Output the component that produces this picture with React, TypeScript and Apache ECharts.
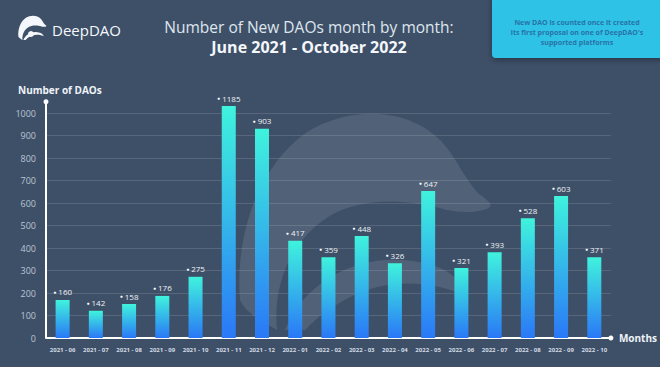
import React, { useEffect, useRef } from 'react';
import * as echarts from 'echarts';

const categories = [
  '2021 - 06', '2021 - 07', '2021 - 08', '2021 - 09', '2021 - 10', '2021 - 11', '2021 - 12',
  '2022 - 01', '2022 - 02', '2022 - 03', '2022 - 04', '2022 - 05', '2022 - 06', '2022 - 07',
  '2022 - 08', '2022 - 09', '2022 - 10',
];
// bar heights as drawn in the picture (read against the y axis)
const barHeights = [169, 121, 151, 187, 272, 1031, 930, 432, 359, 453, 332, 653, 311, 381, 532, 631, 359];
// numbers printed above each bar
const labelValues = [160, 142, 158, 176, 275, 1185, 903, 417, 359, 448, 326, 647, 321, 393, 528, 603, 371];
const yMax = 1000;
const yInterval = 100;
const yAxisTop = 1050;

const DOME =
  'M3 193 C -2 130 20 60 70 25 C 110 0 170 -2 205 35 C 220 52 228 72 240 85 C 248 92 255 95 253 100 C 245 106 225 106 210 103 C 180 95 140 88 100 105 C 60 125 35 170 40 223 C 25 215 8 205 3 193 Z';
const SWIRL =
  'M48 223 C 70 170 130 140 195 158 C 215 164 226 176 230 190 C 205 176 160 170 122 186 C 96 197 78 212 68 223 Z';

echarts.graphic.registerShape('ddDome', echarts.graphic.extendPath(DOME, {}));
echarts.graphic.registerShape('ddSwirl', echarts.graphic.extendPath(SWIRL, {}));

const GRID_LEFT = 46;
const GRID_RIGHT = 46;
const GRID_TOP = 113;
const GRID_BOTTOM = 29;
const BG = '#3e5068';

export default function App() {
  const ref = useRef<HTMLDivElement>(null);
  useEffect(() => {
    if (!ref.current) return;
    const chart = echarts.init(ref.current, null, { renderer: 'svg' });
    const font = '"Open Sans", "Noto Sans", sans-serif';
    const wm = 'rgba(255,255,255,0.1)';
    chart.setOption({
      animation: false,
      backgroundColor: BG,
      textStyle: { fontFamily: font },
      grid: { left: GRID_LEFT, right: GRID_RIGHT, top: GRID_TOP, bottom: GRID_BOTTOM, containLabel: false },
      xAxis: {
        type: 'category',
        data: categories,
        name: 'Months',
        nameLocation: 'end',
        nameGap: 8,
        nameTextStyle: { color: '#eef3f8', fontSize: 10, fontWeight: 'bold', fontFamily: font },
        axisLine: { show: true, lineStyle: { color: '#ffffff', width: 2 }, symbol: ['none', 'circle'], symbolSize: [5, 5] },
        axisTick: { show: false },
        axisLabel: { interval: 0, color: '#d3dbe5', fontSize: 6, fontWeight: 'bold', margin: 9, fontFamily: font },
      },
      yAxis: {
        type: 'value',
        min: 0,
        max: yMax,
        interval: yInterval,
        axisLine: { show: false },
        axisTick: { show: false },
        axisLabel: { color: '#b9c5d3', fontSize: 9, margin: 10, fontFamily: font, formatter: (v: number) => String(v) },
        splitLine: { show: true, lineStyle: { color: 'rgba(255,255,255,0.13)', width: 1 } },
      },
      series: [
        {
          type: 'bar',
          data: barHeights,
          barWidth: 14,
          clip: false,
          z: 3,
          itemStyle: {
            color: new echarts.graphic.LinearGradient(0, 0, 0, 1, [
              { offset: 0, color: '#3ff3dd' },
              { offset: 1, color: '#2a78f7' },
            ]),
          },
          label: {
            show: true,
            position: 'top',
            distance: 4,
            formatter: (p: any) => '{d|●} ' + labelValues[p.dataIndex],
            color: '#eef3f8',
            fontSize: 8,
            fontFamily: font,
            rich: { d: { fontSize: 5, color: '#ffffff' } },
          },
        },
      ],
      graphic: [
        { id: 'wmDome', type: 'ddDome', x: 237, y: 107, z: -1, silent: true, style: { fill: wm } },
        { id: 'wmSwirl', type: 'ddSwirl', x: 237, y: 107, z: -1, silent: true, style: { fill: wm } },
        { id: 'logoDome', type: 'ddDome', x: 18, y: 15, scaleX: 0.112, scaleY: 0.112, style: { fill: '#f4f7fb' } },
        { id: 'logoSwirl', type: 'ddSwirl', x: 18, y: 15, scaleX: 0.112, scaleY: 0.112, style: { fill: '#f4f7fb' } },
        { id: 'logoEye', type: 'circle', shape: { cx: 31, cy: 34, r: 3 }, style: { fill: '#f4f7fb' } },
        {
          id: 'brand', type: 'text', x: 52, y: 30,
          style: { text: 'DeepDAO', fill: '#f4f7fb', fontSize: 15, fontFamily: font, verticalAlign: 'middle' },
        },
        {
          id: 't1', type: 'text', x: 309, y: 27,
          style: { text: 'Number of New DAOs month by month:', fill: '#dfe6ee', fontSize: 15.5, fontFamily: font, align: 'center', verticalAlign: 'middle' },
        },
        {
          id: 't2', type: 'text', x: 309, y: 47,
          style: { text: 'June 2021 - October 2022', fill: '#f4f7fb', fontSize: 16, fontWeight: 'bold', fontFamily: font, align: 'center', verticalAlign: 'middle' },
        },
        {
          id: 'box', type: 'rect', shape: { x: 492, y: -6, width: 172, height: 64, r: 4 },
          style: { fill: '#2ec2e6', shadowBlur: 6, shadowColor: 'rgba(0,0,0,0.35)', shadowOffsetY: 2 },
        },
        {
          id: 'boxText', type: 'text', x: 577, y: 32,
          style: {
            text: "New DAO is counted once it created\nits first proposal on one of DeepDAO's\nsupported platforms",
            fill: '#2873a8', fontSize: 7, fontWeight: 'bold', fontFamily: font, align: 'center', verticalAlign: 'middle', lineHeight: 10,
          },
        },
        {
          id: 'yName', type: 'text', x: 18, y: 90,
          style: { text: 'Number of DAOs', fill: '#eef3f8', fontSize: 10, fontWeight: 'bold', fontFamily: font, verticalAlign: 'middle' },
        },
      ],
    });
    const y0 = chart.convertToPixel({ yAxisIndex: 0 }, 0) as number;
    const yTop = chart.convertToPixel({ yAxisIndex: 0 }, yAxisTop) as number;
    chart.setOption({
      graphic: [
        { id: 'yAxisLine', type: 'line', z: 5, shape: { x1: GRID_LEFT, y1: y0, x2: GRID_LEFT, y2: yTop }, style: { stroke: '#ffffff', lineWidth: 2 } },
        { id: 'yAxisDot', type: 'circle', z: 5, shape: { cx: GRID_LEFT, cy: yTop, r: 2.5 }, style: { fill: '#ffffff' } },
      ],
    });
    return () => chart.dispose();
  }, []);
  return <div ref={ref} style={{ position: 'fixed', left: 0, top: 0, width: 660, height: 367 }} />;
}
